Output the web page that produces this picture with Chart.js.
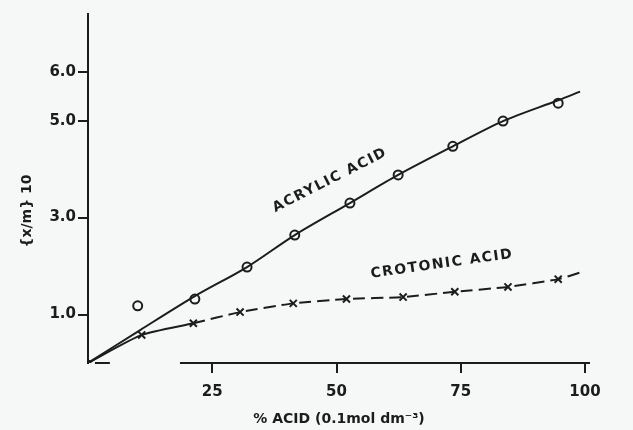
<!DOCTYPE html>
<html>
<head>
<meta charset="utf-8">
<script src="https://cdn.jsdelivr.net/npm/chart.js@4.4.0/dist/chart.umd.min.js"></script>
<style>
  html, body { margin: 0; padding: 0; background: #f6f7f7; }
  #wrap { width: 633px; height: 430px; }
</style>
</head>
<body>
<div id="wrap"><canvas id="chart"></canvas></div>
<script>
const acrylicX = [10, 21.5, 32, 41.6, 52.7, 62.4, 73.4, 83.5, 94.6];
const acrylicY = [1.18, 1.32, 1.98, 2.64, 3.3, 3.88, 4.47, 4.99, 5.36];
// Drawn curve through the acrylic points
const acrylicFitX = [0, 10.5, 21.5, 32, 41.6, 52.7, 62.4, 73.4, 83.5, 94.6, 99];
const acrylicFitY = [0, 0.68, 1.38, 1.98, 2.64, 3.3, 3.88, 4.47, 4.99, 5.42, 5.6];

const crotonicX = [0, 10.8, 21.2, 30.6, 41.3, 52, 63.4, 73.8, 84.5, 94.6, 99.4];
const crotonicY = [0, 0.58, 0.82, 1.05, 1.23, 1.32, 1.36, 1.47, 1.57, 1.73, 1.88];

const xTicks = [25, 50, 75, 100];
const yTicks = [1, 3, 5, 6];

// The x axis is drawn broken, as in the figure
const xAxisPieces = [[1.4, 4.4], [18.5, 101]];

const ink = '#1c1c1c';
const font = "'DejaVu Sans', sans-serif";

const toPoints = (xs, ys) => xs.map((x, i) => ({ x: x, y: ys[i] }));

const brokenAxis = {
    id: 'brokenAxis',
    beforeDatasetsDraw(chart) {
        const ctx = chart.ctx;
        const xs = chart.scales.x;
        const y = chart.chartArea.bottom;
        ctx.save();
        ctx.strokeStyle = ink;
        ctx.lineWidth = 2;
        xAxisPieces.forEach(p => {
            ctx.beginPath();
            ctx.moveTo(xs.getPixelForValue(p[0]), y);
            ctx.lineTo(xs.getPixelForValue(p[1]), y);
            ctx.stroke();
        });
        ctx.restore();
    }
};

// Curve labels and the y axis title
const annotations = {
    id: 'annotations',
    afterDraw(chart) {
        const ctx = chart.ctx;
        const xs = chart.scales.x;
        const ys = chart.scales.y;
        ctx.save();
        ctx.fillStyle = ink;
        ctx.textAlign = 'center';
        ctx.textBaseline = 'middle';
        ctx.font = 'bold 14px ' + font;
        ctx.letterSpacing = '1.5px';

        const label = (text, x, y, deg) => {
            ctx.save();
            ctx.translate(xs.getPixelForValue(x), ys.getPixelForValue(y));
            ctx.rotate(deg * Math.PI / 180);
            ctx.fillText(text, 0, 0);
            ctx.restore();
        };
        label('ACRYLIC ACID', 48.7, 3.77, -27);
        label('CROTONIC ACID', 71.2, 2.04, -8);

        ctx.letterSpacing = '0px';
        ctx.translate(27, 211);
        ctx.rotate(-Math.PI / 2);
        ctx.fillText('{x/m} 10', 0, 0);
        ctx.restore();
    }
};

new Chart(document.getElementById('chart'), {
    type: 'scatter',
    data: {
        datasets: [
            {
                label: 'Acrylic acid curve',
                data: toPoints(acrylicFitX, acrylicFitY),
                showLine: true,
                tension: 0.3,
                borderColor: ink,
                borderWidth: 2,
                pointRadius: 0
            },
            {
                label: 'Acrylic acid',
                data: toPoints(acrylicX, acrylicY),
                showLine: false,
                pointStyle: 'circle',
                pointRadius: 4.5,
                borderColor: ink,
                borderWidth: 2,
                backgroundColor: 'rgba(0,0,0,0)'
            },
            {
                label: 'Crotonic acid',
                data: toPoints(crotonicX, crotonicY),
                showLine: true,
                tension: 0.2,
                borderColor: ink,
                borderWidth: 2,
                segment: {
                    borderDash: c => c.p0DataIndex >= 2 ? [12, 6] : undefined
                },
                pointStyle: 'crossRot',
                pointRadius: c => (c.dataIndex === 0 || c.dataIndex === crotonicX.length - 1) ? 0 : 5,
                pointBorderWidth: 2,
                pointBorderColor: ink
            },
            {
                label: 'Origin',
                data: [{ x: 0, y: 0 }],
                pointRadius: 3,
                backgroundColor: ink,
                borderColor: ink
            }
        ]
    },
    options: {
        responsive: true,
        maintainAspectRatio: false,
        animation: false,
        layout: { padding: { top: 14, right: 43, left: 0, bottom: 0 } },
        plugins: {
            legend: { display: false },
            tooltip: { enabled: false }
        },
        scales: {
            x: {
                type: 'linear',
                min: 0,
                max: 101,
                afterBuildTicks: s => { s.ticks = xTicks.map(v => ({ value: v })); },
                afterFit: s => { s.height = 67; },
                border: { display: false },
                grid: { drawOnChartArea: false, color: ink, lineWidth: 2, tickLength: 10 },
                ticks: { color: ink, padding: 10, font: { family: font, size: 15, weight: 'bold' } },
                title: {
                    display: true,
                    text: '% ACID (0.1mol dm\u207B\u00B3)',
                    color: ink,
                    padding: { top: 0, bottom: 2 },
                    font: { family: font, size: 14, weight: 'bold' }
                }
            },
            y: {
                type: 'linear',
                min: 0,
                max: 7.2,
                afterBuildTicks: s => { s.ticks = yTicks.map(v => ({ value: v })); },
                afterFit: s => { s.width = 88; },
                border: { color: ink, width: 2 },
                grid: { drawOnChartArea: false, color: ink, lineWidth: 2, tickLength: 10 },
                ticks: {
                    color: ink,
                    padding: 2,
                    font: { family: font, size: 15, weight: 'bold' },
                    callback: v => v.toFixed(1)
                }
            }
        }
    },
    plugins: [brokenAxis, annotations]
});
</script>
</body>
</html>
